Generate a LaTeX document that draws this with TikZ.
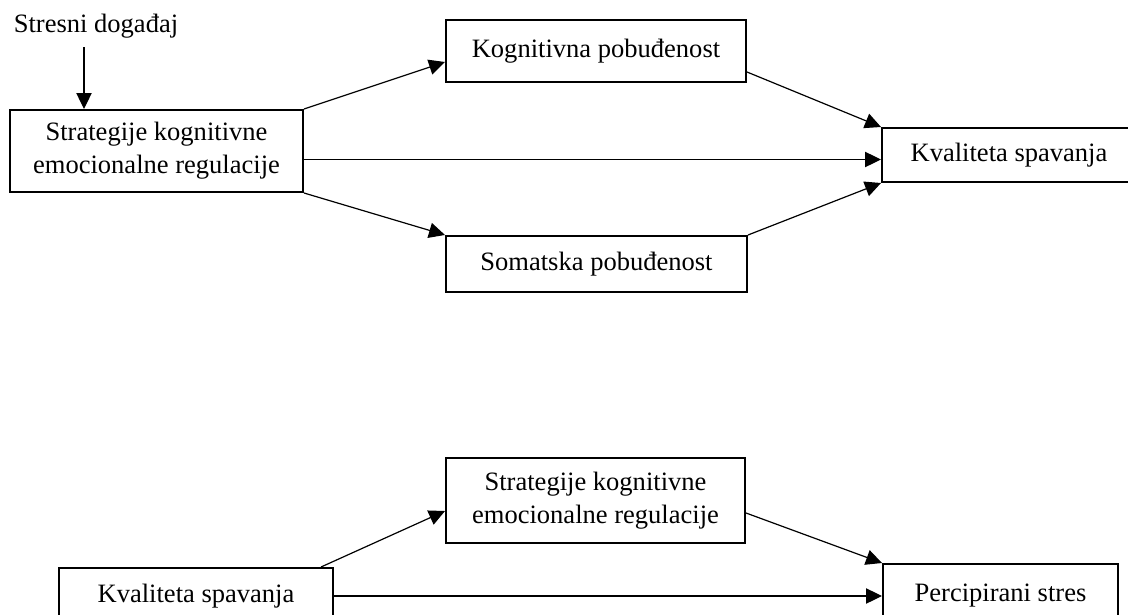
\documentclass[tikz,border=0pt]{standalone}
\usepackage{fontspec}
\setmainfont{Liberation Serif}
\usetikzlibrary{arrows.meta,calc}
\tikzset{
  box/.style={draw, line width=1.5pt, inner sep=0pt, align=center,
    font=\fontsize{19.9}{24.7}\selectfont},
  lbl/.style={inner sep=0pt, font=\fontsize{19.9}{24.7}\selectfont},
  arr/.style={line width=0.9pt, -{Triangle[length=12pt,width=11.5pt]}}
}
\begin{document}
\begin{tikzpicture}[x=0.75pt,y=-0.75pt]
\useasboundingbox (0,0) rectangle (1128,614);
\clip (0,0) rectangle (1128,614);
% top diagram
\node[lbl, anchor=base] (stres) at (96,32) {Stresni događaj};
\node[box, minimum width={293*0.75pt}, minimum height={82*0.75pt}] (s1) at (156.5,151) {Strategije kognitivne\\emocionalne regulacije};
\node[box, minimum width={300*0.75pt}, minimum height={62*0.75pt}] (kog) at (596,51) {Kognitivna pobuđenost};
\node[box, minimum width={301*0.75pt}, minimum height={56*0.75pt}] (som) at (596.5,264) {Somatska pobuđenost};
\node[box, minimum width={254*0.75pt}, minimum height={54*0.75pt}] (kv) at (1009,155) {Kvaliteta spavanja};
\coordinate (st) at (84,47);
\draw[arr] (st) -- (s1.north -| st);
\draw[arr] (s1.north east) -- (kog.west |- 0,62);
\draw[arr] (s1.east |- 0,159.5) -- (kv.west |- 0,159.5);
\draw[arr] (s1.south east) -- (som.north west);
\draw[arr] (kog.east |- 0,72) -- (kv.north west);
\draw[arr] (som.north east) -- (kv.south west);
% bottom diagram
\node[box, minimum width={299*0.75pt}, minimum height={85*0.75pt}] (s2) at (595.5,500.5) {Strategije kognitivne\\emocionalne regulacije};
\node[box, minimum width={274*0.75pt}, minimum height={56*0.75pt}] (kv2) at (196,596) {Kvaliteta spavanja};
\node[box, minimum width={235*0.75pt}, minimum height={64*0.75pt}] (ps) at (1000.5,596) {Percipirani stres};
\coordinate (k2a) at ($(kv2.north east)+(-13,0)$);
\draw[arr] (k2a) -- (s2.west |- 0,511);
\draw[arr] (kv2.east) -- (ps.west);
\draw[arr] (s2.east |- 0,513) -- (ps.north west);
\end{tikzpicture}
\end{document}
